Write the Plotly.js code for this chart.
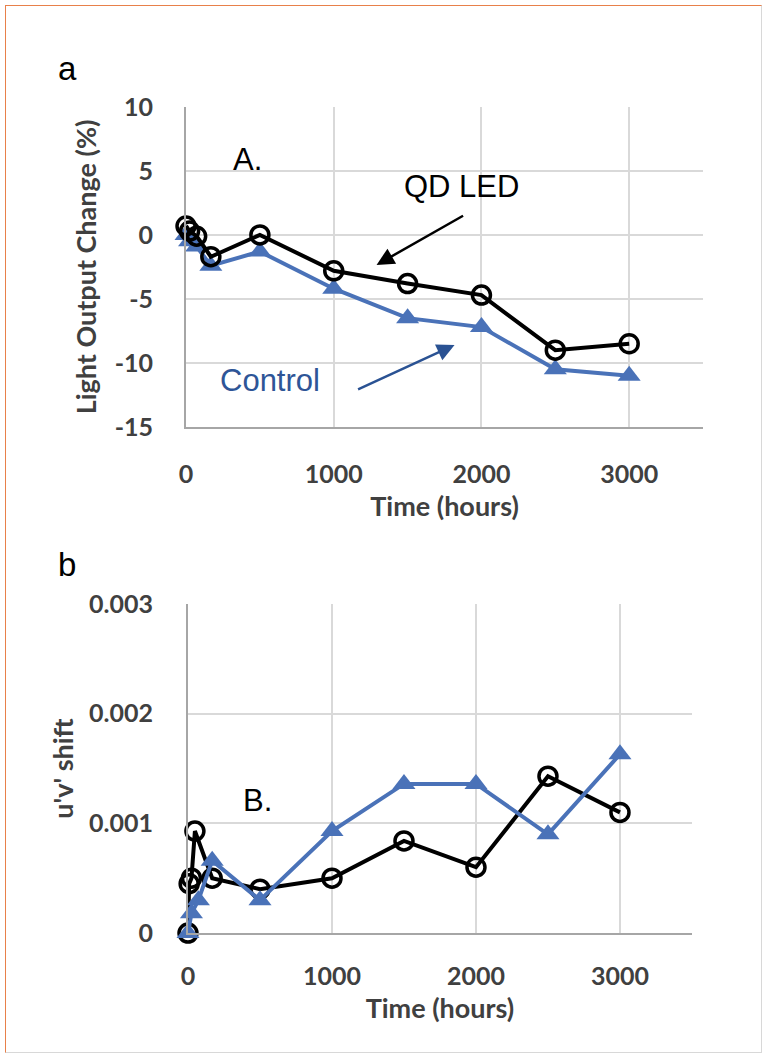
<!DOCTYPE html>
<html><head><meta charset="utf-8">
<script src="https://cdn.plot.ly/plotly-3.0.1.min.js"></script>
<style>
html,body{margin:0;padding:0;background:#fff;}
#chart{width:763px;height:1061px;}
#frame{position:absolute;left:5px;top:5px;width:755px;height:1046px;border-top:1px solid #e8804a;border-left:1px solid #e8804a;border-right:1px solid #d8d8d8;border-bottom:1px solid #d8d8d8;pointer-events:none;}
</style></head><body>
<div id="chart"></div><div id="frame"></div>
<script>
// Panel a: light output change (%)
const timeA_qd = [0, 24, 72, 168, 500, 1000, 1500, 2000, 2500, 3000];
const lightQD = [0.7, 0.3, -0.1, -1.7, 0.0, -2.8, -3.8, -4.7, -9.0, -8.5];
const timeA_ctrl = [0, 24, 72, 168, 500, 1000, 1500, 2000, 2500, 3000];
const lightCtrl = [0.0, -0.5, -0.9, -2.4, -1.3, -4.2, -6.5, -7.2, -10.5, -11.0];
// Panel b: u'v' shift
const timeB_qd = [0, 8, 24, 48, 168, 500, 1000, 1500, 2000, 2500, 3000];
const shiftQD = [0, 0.00045, 0.0005, 0.00093, 0.0005, 0.0004, 0.0005, 0.00084, 0.0006, 0.00143, 0.0011];
const timeB_ctrl = [0, 24, 72, 168, 500, 1000, 1500, 2000, 2500, 3000];
const shiftCtrl = [0, 0.00018, 0.0003, 0.00066, 0.0003, 0.00093, 0.00136, 0.00136, 0.0009, 0.00163];
// Tick labels
const xTickVals = [0, 1000, 2000, 3000];
const xTickText = ['0', '1000', '2000', '3000'];
const yTickValsA = [-15, -10, -5, 0, 5, 10];
const yTickTextA = ['-15', '-10', '-5', '0', '5', '10'];
const yTickValsB = [0, 0.001, 0.002, 0.003];
const yTickTextB = ['0', '0.001', '0.002', '0.003'];

const BLUE = '#4a72b8';
const FAM = 'Lato, "Open Sans", sans-serif';
const tickFont = {family: FAM, size: 25, color: '#404040', weight: 'bold'};
const titleFont = {family: FAM, size: 27, color: '#404040', weight: 'bold'};
const xTitleFont = {family: FAM, size: 27, color: '#404040', weight: 'bold'};
const ANN = 'Liberation Sans, Arial, sans-serif';

function qdTrace(x, y, xa, ya) {
  return {x: x, y: y, xaxis: xa, yaxis: ya, type: 'scatter', mode: 'lines+markers', cliponaxis: false,
    line: {color: '#000', width: 4},
    marker: {symbol: 'circle-open', size: 18, color: '#000', line: {width: 3.5, color: '#000'}},
    showlegend: false};
}
function ctrlTrace(x, y, xa, ya) {
  return {x: x, y: y, xaxis: xa, yaxis: ya, type: 'scatter', mode: 'lines+markers', cliponaxis: false,
    line: {color: BLUE, width: 4},
    marker: {symbol: 'triangle-up', size: 20, color: BLUE},
    showlegend: false};
}

const data = [
  ctrlTrace(timeA_ctrl, lightCtrl, 'x', 'y'),
  qdTrace(timeA_qd, lightQD, 'x', 'y'),
  qdTrace(timeB_qd, shiftQD, 'x2', 'y2'),
  ctrlTrace(timeB_ctrl, shiftCtrl, 'x2', 'y2')
];

const axCommon = {showgrid: true, gridcolor: '#d9d9d9', gridwidth: 2, showline: true, linecolor: '#a6a6a6',
  linewidth: 2, zeroline: false, ticks: '', tickfont: tickFont, fixedrange: true};

const layout = {
  width: 763, height: 1061,
  margin: {l: 0, r: 0, t: 0, b: 0},
  paper_bgcolor: '#fff', plot_bgcolor: '#fff',
  xaxis: Object.assign({}, axCommon, {domain: [0.2438, 0.9214], range: [0, 3500], anchor: 'y',
    tickvals: xTickVals, ticktext: xTickText, ticklabelstandoff: 24,
    title: {text: 'Time (hours)', font: xTitleFont, standoff: 10}}),
  yaxis: Object.assign({}, axCommon, {domain: [0.5976, 0.8992], range: [-15, 10], anchor: 'x',
    tickvals: yTickValsA, ticktext: yTickTextA, ticklabelstandoff: 26,
    title: {text: 'Light Output Change (%)', font: titleFont, standoff: 10}}),
  xaxis2: Object.assign({}, axCommon, {domain: [0.2464, 0.9069], range: [0, 3500], anchor: 'y2',
    tickvals: xTickVals, ticktext: xTickText, ticklabelstandoff: 20,
    title: {text: 'Time (hours)', font: xTitleFont, standoff: 10}}),
  yaxis2: Object.assign({}, axCommon, {domain: [0.1206, 0.4307], range: [0, 0.003], anchor: 'x2',
    tickvals: yTickValsB, ticktext: yTickTextB, ticklabelstandoff: 28,
    title: {text: "u'v' shift", font: titleFont, standoff: 8}}),
  annotations: [
    {xref: 'paper', yref: 'paper', x: 67/763, y: 1 - 68/1061, xanchor: 'center', yanchor: 'middle',
      text: 'a', showarrow: false, font: {family: ANN, size: 33, color: '#000'}},
    {xref: 'paper', yref: 'paper', x: 67/763, y: 1 - 564/1061, xanchor: 'center', yanchor: 'middle',
      text: 'b', showarrow: false, font: {family: ANN, size: 33, color: '#000'}},
    {xref: 'x', yref: 'y', x: 419, y: 5.9, text: 'A.', showarrow: false,
      font: {family: ANN, size: 31, color: '#000'}},
    {xref: 'x', yref: 'y', x: 1865, y: 3.75, text: 'QD LED', showarrow: false,
      font: {family: ANN, size: 31, color: '#000'}},
    {xref: 'x', yref: 'y', x: 568, y: -11.4, text: 'Control', showarrow: false,
      font: {family: ANN, size: 31, color: '#2e5597'}},
    {xref: 'x', yref: 'y', x: 1290, y: -2.34, text: '', showarrow: true, axref: 'pixel', ayref: 'pixel',
      ax: 88, ay: -50, arrowhead: 2, arrowsize: 1.4, arrowwidth: 2.5, arrowcolor: '#000'},
    {xref: 'x', yref: 'y', x: 1818, y: -8.6, text: '', showarrow: true, axref: 'pixel', ayref: 'pixel',
      ax: -98, ay: 45, arrowhead: 2, arrowsize: 1.4, arrowwidth: 2.5, arrowcolor: '#2a5293'},
    {xref: 'x2', yref: 'y2', x: 486, y: 0.00121, text: 'B.', showarrow: false,
      font: {family: ANN, size: 31, color: '#000'}}
  ]
};

Plotly.newPlot('chart', data, layout, {displayModeBar: false, staticPlot: true});
</script>
</body></html>
